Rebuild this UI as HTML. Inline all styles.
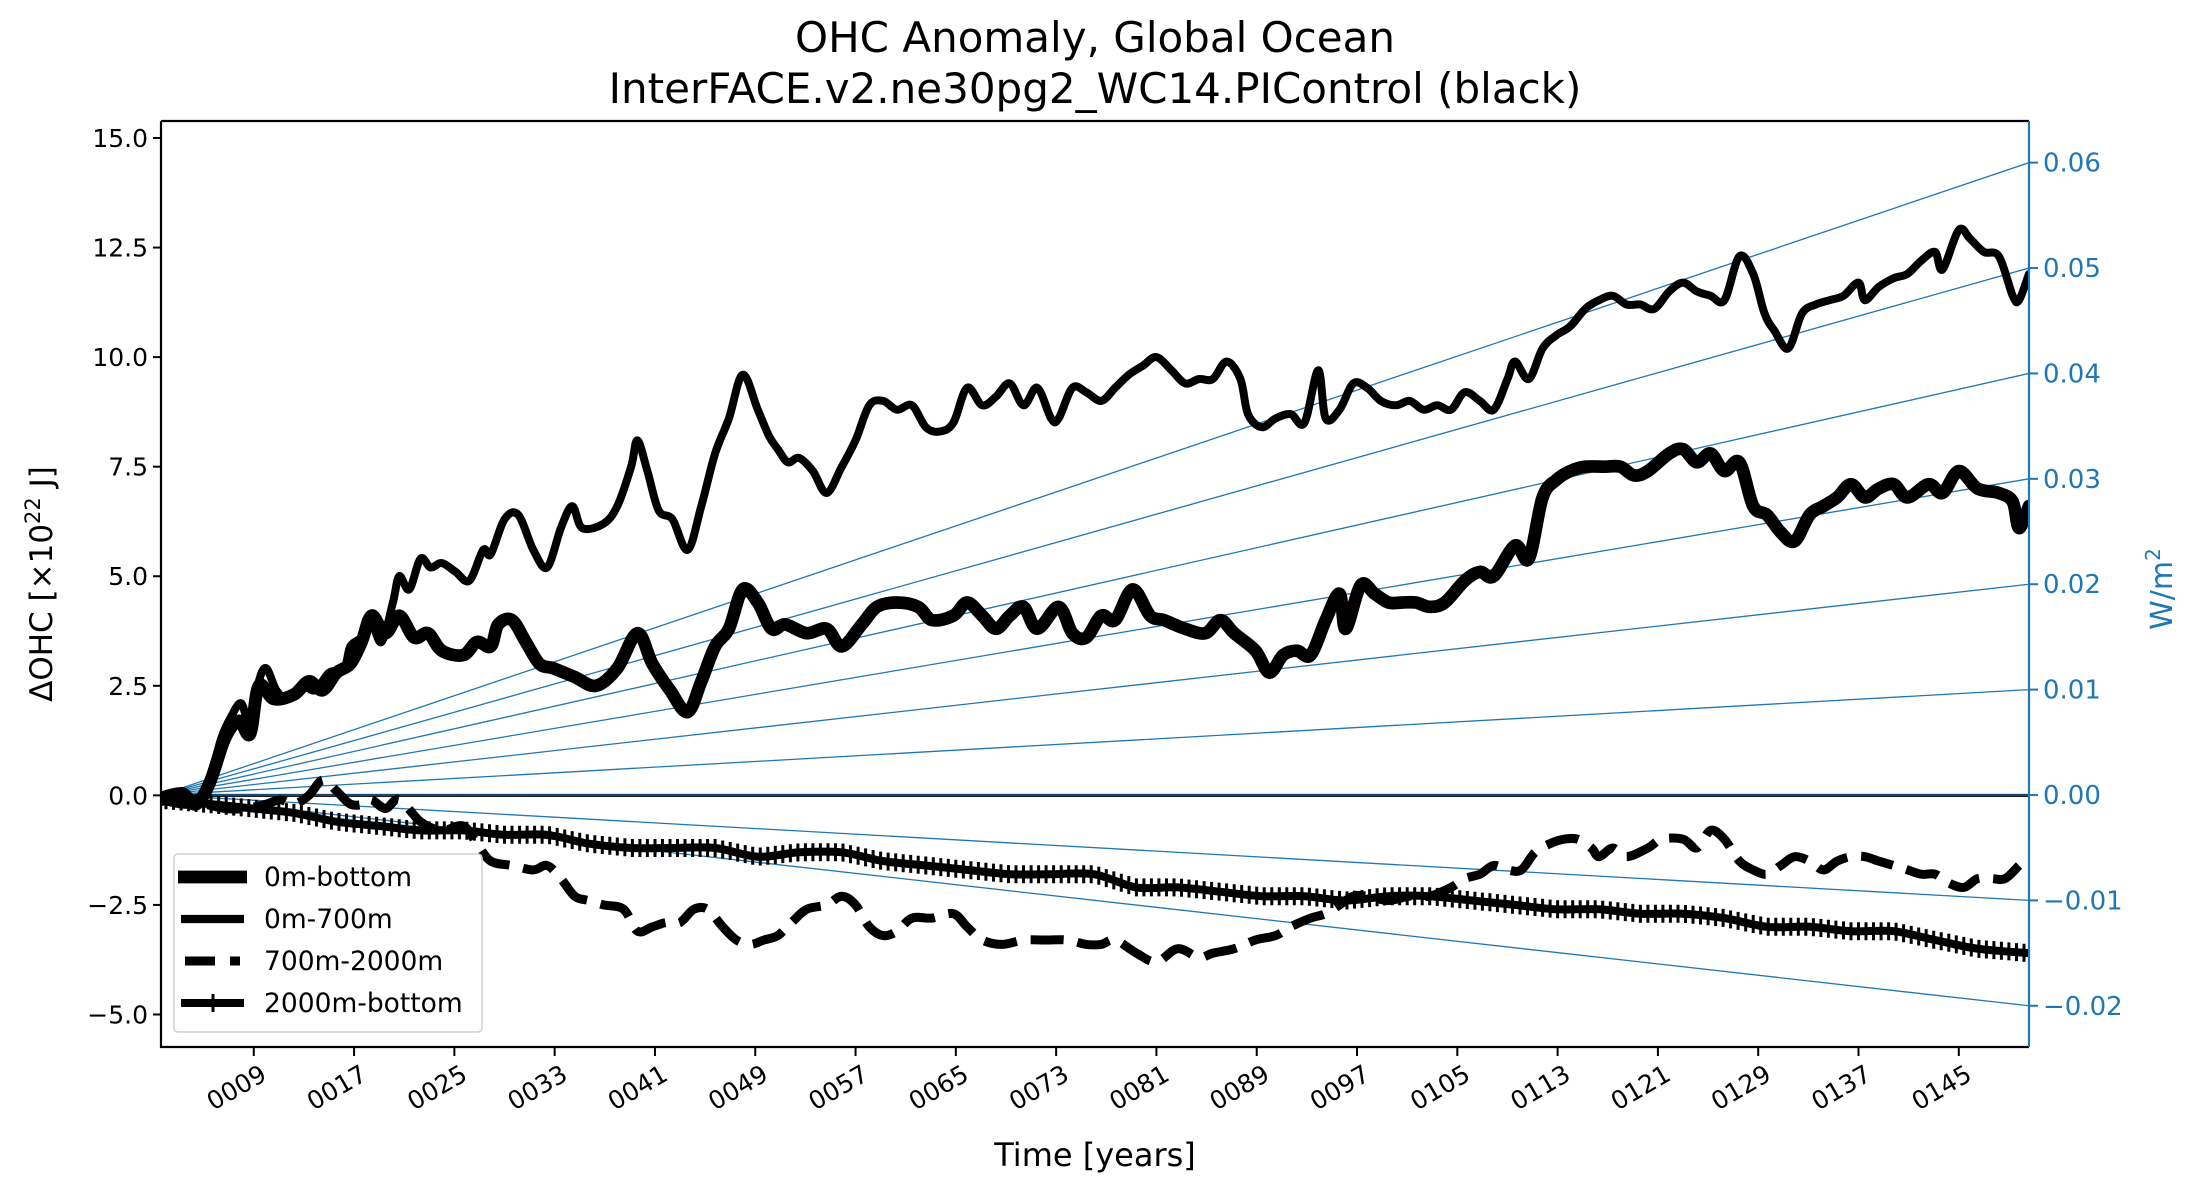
<!DOCTYPE html>
<html><head><meta charset="utf-8"><style>
html,body{margin:0;padding:0;background:#fff}
svg{display:block;font-family:"DejaVu Sans","Liberation Sans",sans-serif}
</style></head><body>
<svg id="chart" width="2187" height="1187" viewBox="0 0 2187 1187" xmlns="http://www.w3.org/2000/svg">
<rect width="2187" height="1187" fill="#fff"/>
<text x="1095" y="52" font-size="42" text-anchor="middle">OHC Anomaly, Global Ocean</text>
<text x="1095" y="103" font-size="42" text-anchor="middle">InterFACE.v2.ne30pg2_WC14.PIControl (black)</text>
<defs><clipPath id="clip"><rect x="161" y="121" width="1868" height="926"/></clipPath></defs>
<g id="flux" clip-path="url(#clip)"></g>
<g id="series" clip-path="url(#clip)"></g>
<g id="axes"></g>
<text transform="translate(52,584) rotate(-90)" font-size="31" text-anchor="middle">ΔOHC [×10<tspan baseline-shift="super" font-size="21">22</tspan> J]</text>
<text transform="translate(2172,589) rotate(-90)" font-size="30" fill="#1f77b4" text-anchor="middle">W/m<tspan baseline-shift="super" font-size="20">2</tspan></text>
<text x="1095" y="1166" font-size="32" text-anchor="middle">Time [years]</text>
<g>
<rect x="174" y="854" width="308" height="178" rx="4" fill="#fff" fill-opacity="0.85" stroke="#d0d0d0" stroke-width="1.5"/>
<g><line x1="178" y1="877" x2="247" y2="877" stroke="#000" stroke-width="12.7"/><text x="264" y="886" font-size="26.5">0m-bottom</text></g>
<g><line x1="181" y1="919" x2="244" y2="919" stroke="#000" stroke-width="8.3"/><text x="264" y="928" font-size="26.5">0m-700m</text></g>
<g><line x1="185" y1="961" x2="240" y2="961" stroke="#000" stroke-width="9" stroke-dasharray="30 15"/><text x="264" y="970" font-size="26.5">700m-2000m</text></g>
<g><line x1="181" y1="1003" x2="244" y2="1003" stroke="#000" stroke-width="8"/><line x1="213" y1="994" x2="213" y2="1012" stroke="#000" stroke-width="3"/><text x="264" y="1012" font-size="26.5">2000m-bottom</text></g>
</g>
</svg>
<script>
const yTicks=[-5.0,-2.5,0.0,2.5,5.0,7.5,10.0,12.5,15.0];
const yTickLabels=["\u22125.0","\u22122.5","0.0","2.5","5.0","7.5","10.0","12.5","15.0"];
const y2Ticks=[-0.02,-0.01,0.00,0.01,0.02,0.03,0.04,0.05,0.06];
const y2TickLabels=["\u22120.02","\u22120.01","0.00","0.01","0.02","0.03","0.04","0.05","0.06"];
const xTicks=[9,17,25,33,41,49,57,65,73,81,89,97,105,113,121,129,137,145];
const xTickLabels=["0009","0017","0025","0033","0041","0049","0057","0065","0073","0081","0089","0097","0105","0113","0121","0129","0137","0145"];
const fluxRates=[0.06,0.05,0.04,0.03,0.02,0.01,-0.01,-0.02];

const yrsBottom=[1.6,3.3,4.4,5.5,6.7,7.8,8.7,9.4,10.6,12.2,13.4,14.5,15.6,16.7,17.6,18.4,19.5,20.6,21.8,22.9,24.0,25.7,26.8,27.9,28.5,29.6,30.7,31.8,32.9,34.6,36.3,38.0,39.6,40.8,42.2,43.6,44.7,45.8,46.9,48.0,49.2,50.3,51.4,53.1,54.7,55.9,57.5,58.7,60.3,62.0,63.1,64.8,65.9,67.1,68.2,69.3,70.4,71.5,73.2,74.3,75.4,76.6,77.7,79.1,80.5,81.6,83.3,84.9,86.1,87.2,88.9,90.0,91.1,92.2,93.3,94.5,95.6,96.1,97.3,98.4,99.5,100.6,101.7,102.8,104.0,105.6,106.8,107.9,109.6,110.7,111.8,112.9,114.0,115.2,116.8,118.0,119.1,120.2,121.9,123.0,124.1,125.2,126.3,127.5,128.6,129.7,130.8,131.9,133.1,134.2,135.3,136.4,137.5,138.6,139.8,140.9,142.6,143.7,145.0,146.5,148.2,149.3,149.8,150.6];
const valBottom=[-0.1,0.0,-0.2,0.3,1.3,1.7,1.4,2.5,2.2,2.3,2.6,2.4,2.8,3.0,3.5,4.1,3.7,4.1,3.6,3.7,3.3,3.2,3.5,3.4,3.9,4.0,3.5,3.0,2.9,2.7,2.5,2.9,3.7,3.0,2.4,1.9,2.6,3.4,3.8,4.7,4.4,3.8,3.9,3.7,3.8,3.4,3.9,4.3,4.4,4.3,4.0,4.1,4.4,4.1,3.8,4.1,4.3,3.8,4.3,3.7,3.6,4.1,4.0,4.7,4.1,4.0,3.8,3.7,4.0,3.7,3.3,2.8,3.2,3.3,3.2,4.0,4.6,3.8,4.8,4.6,4.4,4.4,4.4,4.3,4.4,4.9,5.1,5.0,5.7,5.4,6.8,7.2,7.4,7.5,7.5,7.5,7.3,7.4,7.8,7.9,7.6,7.8,7.4,7.6,6.6,6.4,6.0,5.8,6.4,6.6,6.8,7.1,6.8,7.0,7.1,6.8,7.1,6.9,7.4,7.0,6.9,6.7,6.1,6.6];

const yrs700=[1.6,3.3,4.4,5.5,6.4,7.2,8.0,8.7,9.4,10.0,10.8,11.7,12.8,13.9,15.0,16.2,16.7,17.6,18.4,19.2,20.1,20.6,21.4,22.3,23.1,24.0,25.1,26.2,27.3,27.9,29.0,30.1,31.3,32.4,33.5,34.4,35.2,36.9,38.0,39.1,39.6,40.4,41.3,42.4,43.6,44.7,45.8,46.9,48.0,49.2,50.1,50.8,51.6,52.5,53.6,54.7,55.9,57.0,58.1,59.2,60.3,61.5,62.6,63.7,64.8,65.9,67.1,68.2,69.3,70.4,71.5,72.6,73.2,74.3,75.4,76.6,77.7,78.8,79.9,81.0,82.2,83.3,84.4,85.5,86.6,87.7,88.3,89.4,90.5,91.7,92.8,93.9,94.5,95.6,96.7,97.8,98.9,100.1,101.2,102.3,103.4,104.5,105.6,106.8,107.9,109.0,109.6,110.7,111.8,112.9,114.0,115.2,116.3,117.4,118.5,119.6,120.7,121.9,123.0,124.1,125.2,126.3,127.5,128.6,129.5,130.3,131.4,132.5,133.6,134.7,135.8,137.0,137.5,138.6,139.8,140.9,142.0,143.1,143.7,145.0,145.9,147.0,148.2,149.3,149.8,150.6];
const val700=[0.0,0.1,-0.1,0.4,1.3,1.8,2.1,1.6,2.6,2.9,2.4,2.2,2.5,2.4,2.8,2.9,3.4,3.6,3.9,3.5,4.4,5.0,4.7,5.4,5.2,5.3,5.1,4.9,5.6,5.5,6.3,6.4,5.6,5.2,6.1,6.6,6.1,6.2,6.6,7.5,8.1,7.4,6.5,6.3,5.6,6.6,7.8,8.6,9.6,8.8,8.2,7.9,7.6,7.7,7.4,6.9,7.5,8.1,8.9,9.0,8.8,8.9,8.4,8.3,8.5,9.3,8.9,9.1,9.4,8.9,9.3,8.6,8.6,9.3,9.2,9.0,9.3,9.6,9.8,10.0,9.7,9.4,9.5,9.5,9.9,9.5,8.7,8.4,8.6,8.7,8.5,9.7,8.6,8.8,9.4,9.3,9.0,8.9,9.0,8.8,8.9,8.8,9.2,9.0,8.8,9.5,9.9,9.5,10.2,10.5,10.7,11.1,11.3,11.4,11.2,11.2,11.1,11.5,11.7,11.5,11.4,11.3,12.3,11.9,11.0,10.6,10.2,11.0,11.2,11.3,11.4,11.7,11.3,11.6,11.8,11.9,12.2,12.4,12.0,12.9,12.7,12.4,12.3,11.4,11.3,11.9];

const yrsMid=[1.6,3.3,5.0,6.7,8.3,10.0,11.1,12.2,13.4,14.5,15.6,16.7,17.8,18.4,19.5,20.6,22.3,24.0,25.7,26.8,27.9,29.6,31.3,32.4,33.5,34.6,35.7,36.9,38.5,39.6,40.8,41.9,43.0,44.1,45.2,46.4,47.5,48.6,49.7,50.8,51.9,53.1,54.7,55.9,57.0,58.1,59.2,60.3,61.5,63.1,64.8,65.9,67.1,68.7,70.4,72.1,73.8,75.4,76.6,77.7,79.4,81.0,82.7,84.4,85.5,87.2,88.9,90.5,91.7,93.3,94.5,95.6,96.7,97.8,99.5,101.2,102.8,104.5,105.6,106.8,107.9,109.0,110.1,111.2,112.4,113.5,114.6,115.7,116.3,117.4,118.5,120.2,121.3,123.0,124.1,125.2,126.3,127.5,128.6,129.7,130.8,131.9,133.1,134.2,135.3,136.4,137.5,138.6,139.8,140.9,142.0,143.1,144.2,145.4,146.5,147.6,148.7,149.8];
const valMid=[-0.1,-0.2,-0.2,-0.3,-0.3,-0.2,-0.1,-0.2,0.0,0.35,0.1,-0.2,-0.2,-0.1,-0.3,-0.1,-0.6,-0.8,-0.7,-1.1,-1.5,-1.6,-1.7,-1.6,-1.9,-2.3,-2.4,-2.5,-2.6,-3.1,-3.0,-2.9,-2.9,-2.6,-2.6,-3.0,-3.3,-3.4,-3.3,-3.2,-2.9,-2.6,-2.5,-2.3,-2.5,-3.0,-3.2,-3.1,-2.8,-2.8,-2.7,-3.0,-3.3,-3.4,-3.3,-3.3,-3.3,-3.4,-3.4,-3.3,-3.6,-3.8,-3.5,-3.7,-3.6,-3.5,-3.3,-3.2,-3.0,-2.8,-2.7,-2.5,-2.3,-2.3,-2.4,-2.3,-2.3,-2.1,-1.9,-1.8,-1.6,-1.7,-1.7,-1.3,-1.1,-1.0,-1.0,-1.2,-1.4,-1.2,-1.4,-1.2,-1.0,-1.0,-1.2,-0.8,-1.0,-1.5,-1.7,-1.8,-1.6,-1.4,-1.5,-1.7,-1.5,-1.4,-1.4,-1.5,-1.6,-1.7,-1.8,-1.8,-2.0,-2.1,-1.9,-1.9,-1.9,-1.6];

const yrsDeep=[1.6,5.5,8.9,12.2,15.6,19.0,22.3,25.7,29.0,32.4,35.7,39.1,42.4,45.8,49.2,52.5,55.9,59.2,62.6,65.9,69.3,72.6,76.0,79.4,82.7,86.1,89.4,92.8,96.1,99.5,102.8,106.2,109.6,112.9,116.3,119.6,123.0,126.3,129.7,133.1,136.4,139.8,143.1,146.5,150.6];
const valDeep=[-0.1,-0.2,-0.3,-0.4,-0.6,-0.7,-0.8,-0.8,-0.9,-0.9,-1.1,-1.2,-1.2,-1.2,-1.4,-1.3,-1.3,-1.5,-1.6,-1.7,-1.8,-1.8,-1.8,-2.1,-2.1,-2.2,-2.3,-2.3,-2.4,-2.3,-2.3,-2.4,-2.5,-2.6,-2.6,-2.7,-2.7,-2.8,-3.0,-3.0,-3.1,-3.1,-3.3,-3.5,-3.6];

const X0=161,X1=2029,Y0=121,Y1=1047;
const xMin=1.6,xMax=150.6;
const yMin=-5.742,yMax=15.388;
const y2Min=-0.02391,y2Max=0.06395;
const NS='http://www.w3.org/2000/svg';
function xs(v){return X0+(v-xMin)/(xMax-xMin)*(X1-X0);}
function ys(v){return Y1-(v-yMin)/(yMax-yMin)*(Y1-Y0);}
function ys2(v){return Y1-(v-y2Min)/(y2Max-y2Min)*(Y1-Y0);}
function mk(tag,attrs,parent){const e=document.createElementNS(NS,tag);for(const k in attrs)e.setAttribute(k,attrs[k]);parent.appendChild(e);return e;}
const flux=document.getElementById('flux'),series=document.getElementById('series'),axes=document.getElementById('axes');

fluxRates.forEach(function(r){
  const l=mk('line',{x1:xs(xMin),y1:ys2(0),x2:xs(xMax),y2:ys2(r),stroke:'#1f77b4','stroke-width':1.3},flux);
  
  
});
const zl=mk('line',{x1:X0,y1:ys(0),x2:X1,y2:ys(0),stroke:'#000','stroke-width':3},flux);


const zl2=mk('line',{x1:X0,y1:ys2(0),x2:X1,y2:ys2(0),stroke:'#1f77b4','stroke-width':1.3},flux);



function pathD(xsArr,vals){
  const p=xsArr.map(function(t,i){return [xs(t),ys(vals[i])];});
  let d='M'+p[0][0].toFixed(1)+','+p[0][1].toFixed(1);
  for(let i=0;i<p.length-1;i++){
    const a=p[Math.max(0,i-1)],b=p[i],c=p[i+1],e=p[Math.min(p.length-1,i+2)];
    const c1=[b[0]+(c[0]-a[0])/6,b[1]+(c[1]-a[1])/6];
    const c2=[c[0]-(e[0]-b[0])/6,c[1]-(e[1]-b[1])/6];
    d+='C'+c1[0].toFixed(1)+','+c1[1].toFixed(1)+' '+c2[0].toFixed(1)+','+c2[1].toFixed(1)+' '+c[0].toFixed(1)+','+c[1].toFixed(1);
  }
  return d;
}
const pDeep=mk('path',{d:pathD(yrsDeep,valDeep),fill:'none',stroke:'#000','stroke-width':8,'stroke-linejoin':'round'},series);


let mD='';
for(let t=2;t<=150.5;t+=0.6){
  let i=0;while(i<yrsDeep.length-2&&yrsDeep[i+1]<t)i++;
  const f=(t-yrsDeep[i])/(yrsDeep[i+1]-yrsDeep[i]);
  const v=valDeep[i]+f*(valDeep[i+1]-valDeep[i]);
  const x=xs(t),y=ys(v);
  mD+='M'+x.toFixed(1)+','+(y-9).toFixed(1)+'V'+(y+9).toFixed(1);
}
const mk2=mk('path',{d:mD,stroke:'#000','stroke-width':3,fill:'none'},series);


const pMid=mk('path',{d:pathD(yrsMid,valMid),fill:'none',stroke:'#000','stroke-width':9,'stroke-dasharray':'33 14','stroke-linejoin':'round'},series);


const pB=mk('path',{d:pathD(yrsBottom,valBottom),fill:'none',stroke:'#000','stroke-width':12.7,'stroke-linejoin':'round','stroke-linecap':'round'},series);


const p7=mk('path',{d:pathD(yrs700,val700),fill:'none',stroke:'#000','stroke-width':8,'stroke-linejoin':'round','stroke-linecap':'round'},series);



const sp=mk('path',{d:'M'+X0+','+Y0+'H'+X1+'M'+X0+','+Y0+'V'+Y1+'H'+X1,stroke:'#000','stroke-width':2.2,fill:'none'},axes);


const sr=mk('line',{x1:X1,y1:Y0,x2:X1,y2:Y1,stroke:'#1f77b4','stroke-width':2.2},axes);



yTicks.forEach(function(v,i){
  const y=ys(v);
  const t=mk('line',{x1:X0-8,y1:y,x2:X0,y2:y,stroke:'#000','stroke-width':2},axes);
  
  
  const tx=mk('text',{x:X0-13,y:y+9,'font-size':25,'text-anchor':'end'},axes);
  tx.textContent=yTickLabels[i];
  
  
});
y2Ticks.forEach(function(v,i){
  const y=ys2(v);
  const t=mk('line',{x1:X1,y1:y,x2:X1+9,y2:y,stroke:'#1f77b4','stroke-width':2},axes);
  
  
  const tx=mk('text',{x:X1+14,y:y+9,'font-size':26,fill:'#1f77b4'},axes);
  tx.textContent=y2TickLabels[i];
  
  
});
xTicks.forEach(function(v,i){
  const x=xs(v);
  const t=mk('line',{x1:x,y1:Y1,x2:x,y2:Y1+9,stroke:'#000','stroke-width':2},axes);
  
  
  const tx=mk('text',{x:0,y:0,'font-size':25,'text-anchor':'middle',transform:'translate('+(x-13)+','+(Y1+48)+') rotate(-30)'},axes);
  tx.textContent=xTickLabels[i];
  
  
});
</script>
</body></html>
